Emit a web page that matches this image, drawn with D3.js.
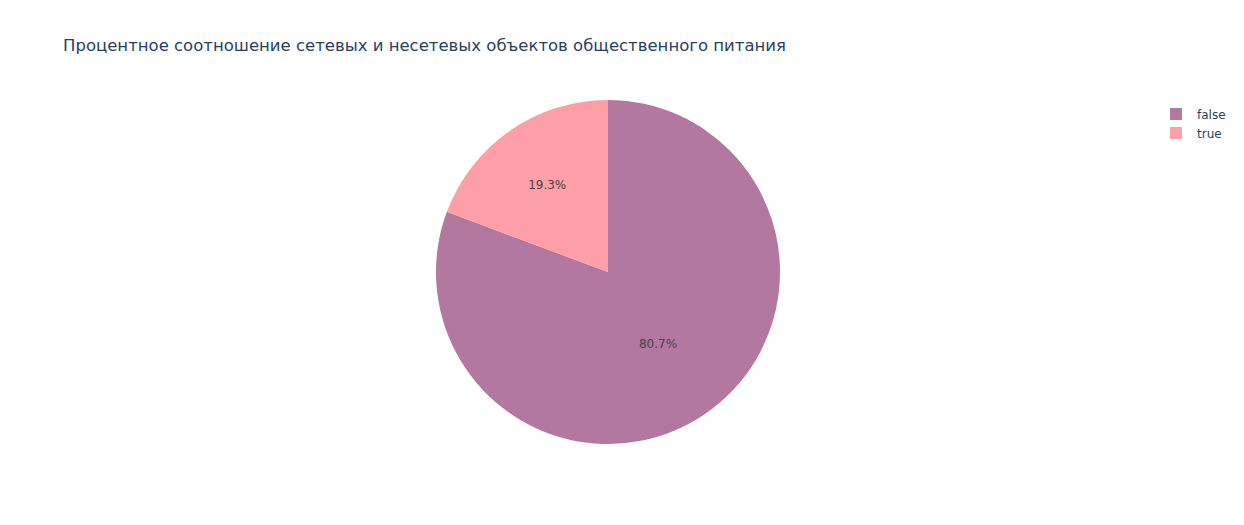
<!DOCTYPE html>
<html>
<head>
<meta charset="utf-8">
<script src="https://cdn.jsdelivr.net/npm/d3@7"></script>
<style>
  body { margin: 0; background: #fff; }
  svg { display: block; font-family: Verdana, "DejaVu Sans", sans-serif; }
</style>
</head>
<body>
<svg id="chart" width="1244" height="525"></svg>
<script>
const title = "Процентное соотношение сетевых и несетевых объектов общественного питания";
const categories = ["false", "true"];
const counts = [12398, 2968];
const colors = ["#b3789f", "#fe9ea6"];

const W = 1244, H = 525;
const cx = 608, cy = 272, r = 172;
const labelRadiusFrac = [0.51, 0.62];

const svg = d3.select("#chart");

svg.append("text")
  .attr("x", 63).attr("y", 51)
  .attr("font-size", 16.5)
  .attr("fill", "#2a3f5f")
  .text(title);

const total = d3.sum(counts);
const data = categories.map((c, i) => ({ cat: c, value: counts[i], color: colors[i], frac: labelRadiusFrac[i] }));

const pie = d3.pie().value(d => d.value).sort(null);
const arcs = pie(data);
const arc = d3.arc().innerRadius(0).outerRadius(r);

const g = svg.append("g").attr("transform", `translate(${cx},${cy})`);
g.selectAll("path").data(arcs).join("path")
  .attr("d", arc)
  .attr("fill", d => d.data.color);

g.selectAll("text.lbl").data(arcs).join("text")
  .attr("class", "lbl")
  .attr("transform", d => {
    const a = d3.arc().innerRadius(r * d.data.frac).outerRadius(r * d.data.frac);
    const [x, y] = a.centroid(d);
    return `translate(${x},${y})`;
  })
  .attr("text-anchor", "middle")
  .attr("dy", "0.35em")
  .attr("font-size", 12)
  .attr("fill", "#444")
  .text(d => (d.value / total * 100).toFixed(1) + "%");

const legend = svg.append("g").attr("transform", "translate(1170,108)");
const items = legend.selectAll("g").data(data).join("g")
  .attr("transform", (d, i) => `translate(0,${i * 19})`);
items.append("rect")
  .attr("x", 0).attr("y", 0).attr("width", 12).attr("height", 12)
  .attr("fill", d => d.color);
items.append("text")
  .attr("x", 27).attr("y", 6).attr("dy", "0.38em")
  .attr("font-size", 12)
  .attr("fill", "#2a3f5f")
  .text(d => d.cat);
</script>
</body>
</html>
